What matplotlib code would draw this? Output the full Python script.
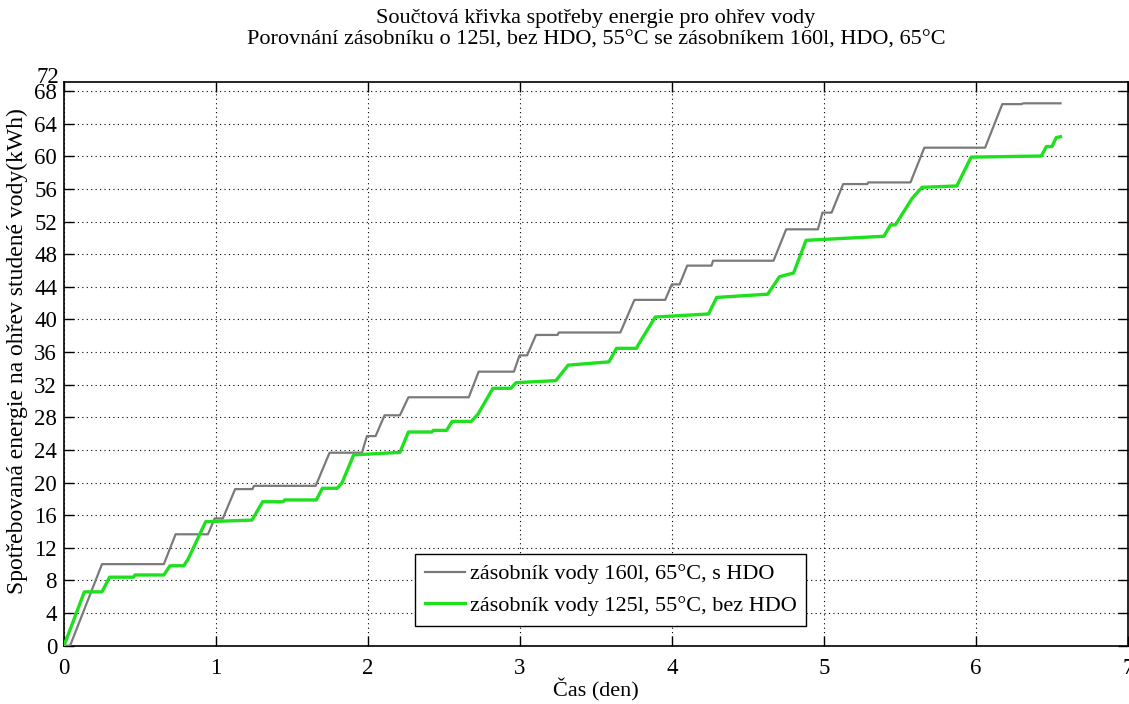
import matplotlib
matplotlib.use("Agg")
import matplotlib.pyplot as plt
from matplotlib.ticker import FixedLocator

# ---- data ----
days_160 = [0, 0.04, 0.25, 0.657, 0.734, 0.947, 0.991, 1.045, 1.126, 1.24,
            1.25, 1.656, 1.747, 1.96, 1.993, 2.05, 2.109, 2.21, 2.266, 2.663,
            2.728, 2.96, 2.997, 3.047, 3.105, 3.247, 3.255, 3.66, 3.753, 3.955,
            3.999, 4.05, 4.10, 4.26, 4.27, 4.668, 4.751, 4.96, 4.99, 5.05,
            5.126, 5.286, 5.29, 5.569, 5.66, 6.06, 6.173, 6.30, 6.31, 6.556]
energy_160 = [0, 0, 10.0, 10.0, 13.66, 13.66, 15.6, 15.6, 19.2, 19.2,
              19.6, 19.6, 23.66, 23.66, 25.7, 25.7, 28.25, 28.25, 30.46, 30.46,
              33.6, 33.6, 35.6, 35.6, 38.1, 38.1, 38.4, 38.4, 42.4, 42.4,
              44.3, 44.3, 46.6, 46.6, 47.2, 47.2, 51.05, 51.05, 53.1, 53.1,
              56.6, 56.6, 56.8, 56.8, 61.06, 61.06, 66.4, 66.4, 66.5, 66.5]

days_125 = [0, 0.134, 0.25, 0.30, 0.457, 0.467, 0.657, 0.697, 0.788, 0.816,
            0.932, 1.237, 1.307, 1.442, 1.452, 1.66, 1.70, 1.797, 1.83, 1.906,
            2.21, 2.266, 2.42, 2.43, 2.517, 2.554, 2.68, 2.724, 2.822, 2.94,
            2.974, 3.236, 3.317, 3.585, 3.635, 3.766, 3.78, 3.89, 4.24, 4.294,
            4.63, 4.707, 4.80, 4.882, 5.394, 5.438, 5.47, 5.58, 5.645, 5.874,
            5.968, 6.43, 6.463, 6.50, 6.528, 6.556]
energy_125 = [0, 6.6, 6.6, 8.4, 8.4, 8.67, 8.67, 9.8, 9.8, 10.6,
              15.2, 15.4, 17.65, 17.65, 17.87, 17.87, 19.3, 19.3, 20.0, 23.4,
              23.7, 26.2, 26.2, 26.4, 26.4, 27.5, 27.5, 28.4, 31.56, 31.56,
              32.25, 32.5, 34.4, 34.8, 36.46, 36.46, 36.95, 40.3, 40.67, 42.7,
              43.1, 45.24, 45.7, 49.7, 50.2, 51.6, 51.6, 54.85, 56.2, 56.37,
              59.9, 60.04, 61.2, 61.2, 62.3, 62.4]

label_160 = "zásobník vody 160l, 65°C, s HDO"
label_125 = "zásobník vody 125l, 55°C, bez HDO"
title_1 = "Součtová křivka spotřeby energie pro ohřev vody"
title_2 = "Porovnání zásobníku o 125l, bez HDO, 55°C se zásobníkem 160l, HDO, 65°C"
xlabel = "Čas (den)"
ylabel = "Spotřebovaná energie na ohřev studené vody(kWh)"
xticks = [0, 1, 2, 3, 4, 5, 6, 7]
yticks = list(range(0, 69, 4))
extra_ytick_label = "72"

plt.rcParams['font.family'] = ['Liberation Serif', 'DejaVu Serif']
FS = 16
FS_TICK = 16.5
FS_YLABEL = 17

W, H = 1129, 704
fig = plt.figure(figsize=(W / 100, H / 100), dpi=100)
left, right, top, bottom = 64, 1128, 81.7, 645.7
ax = fig.add_axes([left / W, (H - bottom) / H, (right - left) / W, (bottom - top) / H])

ax.plot(days_160, energy_160, color='#7a7a7a', lw=1.6, label=label_160, zorder=3)
ax.plot(days_125, energy_125, color='#1ee01e', lw=2.4, label=label_125, zorder=4)

ax.set_xlim(0, 7)
ax.set_ylim(0, 69.15)
ax.xaxis.set_major_locator(FixedLocator(xticks))
ax.yaxis.set_major_locator(FixedLocator(yticks))
ax.tick_params(direction='in', length=7, width=1.0, top=True, right=True,
               labelsize=FS_TICK)
ax.tick_params(axis='x', pad=9)
ax.tick_params(axis='y', pad=5)
ax.grid(True, color='black', linestyle=(0, (1, 3)), linewidth=0.8)
for s in ax.spines.values():
    s.set_linewidth(1.2)

# stray "72" label at the top of the y axis
ax.text(-0.0047, 69.7, extra_ytick_label, transform=ax.get_yaxis_transform(),
        ha='right', va='center', fontsize=FS_TICK, clip_on=False)

ax.set_xlabel(xlabel, fontsize=FS)
ax.set_ylabel(ylabel, fontsize=FS_YLABEL, va='center')
ax.yaxis.set_label_coords(-0.0435, 0.522)
ax.xaxis.set_label_coords(0.5, -0.058)

fig.text((left + right) / 2 / W, 1 - 18 / H, title_1, ha='center', va='center', fontsize=FS)
fig.text((left + right) / 2 / W, 1 - 40 / H, title_2, ha='center', va='center', fontsize=FS)

leg = ax.legend(loc='lower left', bbox_to_anchor=(0.33, 0.035), borderaxespad=0,
                fontsize=FS, frameon=True, fancybox=False, edgecolor='black',
                handlelength=1.8, handletextpad=0.2, labelspacing=0.5,
                borderpad=0.45)
leg.get_frame().set_linewidth(1.0)
leg.get_frame().set_alpha(1)

fig.savefig("out.png", dpi=100)
